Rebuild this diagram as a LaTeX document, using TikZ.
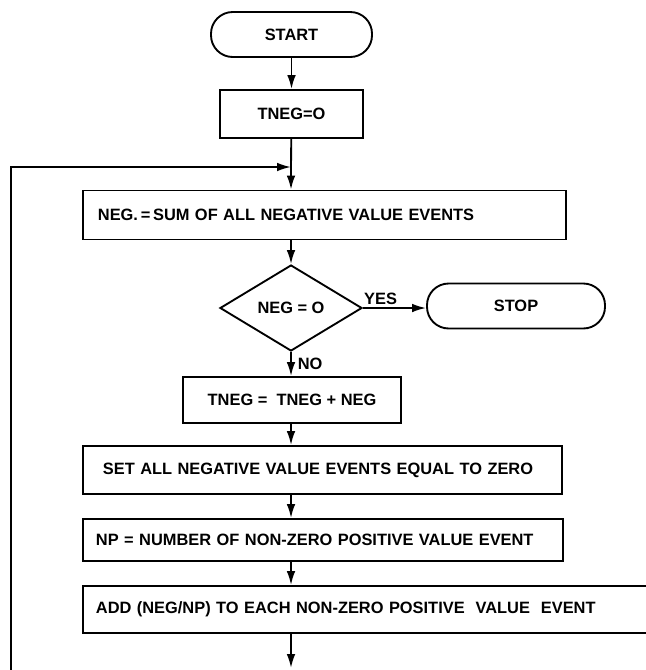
\documentclass[tikz,border=0pt]{standalone}
\usepackage{fontspec}
\setmainfont{Liberation Sans}
\usetikzlibrary{arrows.meta}
\usetikzlibrary{shapes.geometric}
\usetikzlibrary{calc}

\tikzset{
  box/.style={draw, rectangle, inner sep=0pt},
  wide/.style={draw, rectangle, anchor=west, align=left, inner ysep=0pt},
  term/.style={draw, rectangle, rounded corners=0.65cm, inner sep=0pt, minimum height=1.35cm},
  decide/.style={draw, diamond, inner sep=0pt, minimum width=4.26cm, minimum height=2.58cm},
  lbl/.style={inner sep=2pt}
}

\begin{document}
\begin{tikzpicture}[x=0.03cm, y=-0.03cm, line width=1.6pt, >={Latex[length=4.2mm,width=2.6mm]},
  font=\fontsize{14}{16}\selectfont\bfseries]
\useasboundingbox (0,0) rectangle (646,670);
\node[term, minimum width=4.83cm] (start) at (291.5,34.5) {START};
\node[box, minimum width=4.29cm, minimum height=1.44cm] (init) at (291.5,114) {TNEG=O};
\coordinate (join) at (291,167);
\node[wide, text width=13.59cm, inner xsep=0.45cm, minimum height=1.47cm] (sumneg) at (82,215) {NEG.\,=\,SUM OF ALL NEGATIVE VALUE EVENTS};
\node[decide] (test) at (291,308) {NEG = O};
\node[term, minimum width=5.34cm] (stop) at (516,306) {STOP};
\node[box, minimum width=6.54cm, minimum height=1.38cm] (accum) at (292,400) {TNEG = \ TNEG + NEG};
\node[wide, text width=13.17cm, inner xsep=0.6cm, minimum height=1.44cm] (zero) at (82,470) {SET ALL NEGATIVE VALUE EVENTS EQUAL TO ZERO};
\node[wide, text width=13.62cm, inner xsep=0.39cm, minimum height=1.26cm] (count) at (82,540) {NP = NUMBER OF NON-ZERO POSITIVE VALUE EVENT};
\node[wide, text width=16.86cm, inner xsep=0.39cm, minimum height=1.41cm] (spread) at (82,609.5) {ADD (NEG/NP) TO EACH NON-ZERO POSITIVE \ VALUE \ EVENT};
\coordinate (out) at (291,668);
\coordinate (back) at (11,675);

\draw[->] (start) -- (init);
\draw (init) -- (join);
\draw[->] (back) |- (join);
\draw[->] (join) -- (join |- sumneg.north);
\draw[->] (test.north |- sumneg.south) -- (test.north);
\draw[->] (test.east) -- (test.east -| stop.west) node[lbl, above, pos=.28] (yes) {YES};
\draw[->] (test.south) -- (accum.north -| test) node[lbl, right=3pt, pos=.5] (no) {NO};
\draw[->] (accum.south -| test) -- (zero.north -| test);
\draw[->] (zero.south -| test) -- (count.north -| test);
\draw[->] (count.south -| test) -- (spread.north -| test);
\draw[->] (spread.south -| test) -- (out);
\end{tikzpicture}
\end{document}
